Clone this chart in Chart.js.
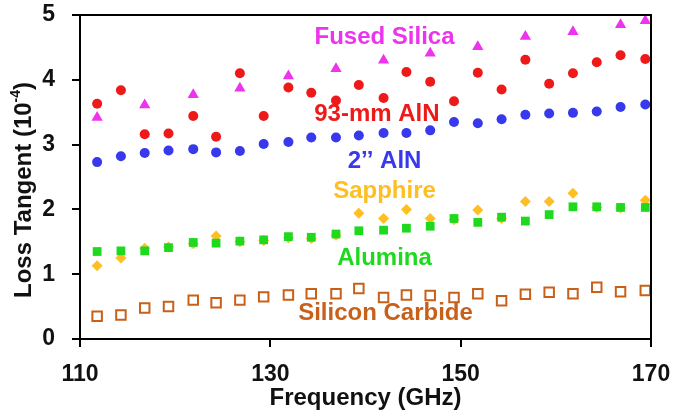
<!DOCTYPE html>
<html>
<head>
<meta charset="utf-8">
<title>Loss Tangent vs Frequency</title>
<script src="https://cdn.jsdelivr.net/npm/chart.js@4.4.0/dist/chart.umd.min.js"></script>
<style>
    html, body { margin: 0; padding: 0; background: #ffffff; }
    #wrap { width: 697px; height: 419px; }
</style>
</head>
<body>
<div id="wrap"><canvas id="lossChart"></canvas></div>
<script>
// Measurement frequencies (GHz)
const frequencies = [111.8, 114.3, 116.8, 119.3, 121.9, 124.3, 126.8, 129.3, 131.9, 134.3, 136.9, 139.3,
                     141.9, 144.3, 146.8, 149.3, 151.8, 154.3, 156.8, 159.3, 161.8, 164.3, 166.8, 169.4];

// Loss tangent values (x 10^-4), null where no point was plotted
const aln93mm = [3.63, 3.84, 3.16, 3.17, 3.44, 3.12, 4.10, 3.44, 3.88, 3.80, 3.68, 3.92,
                 3.72, 4.12, 3.97, 3.67, 4.11, 3.85, 4.31, 3.94, 4.10, 4.27, 4.38, 4.32];
const fusedSilica = [3.42, null, 3.61, null, 3.77, null, 3.87, null, 4.06, null, 4.17, null,
                     4.30, null, 4.41, null, 4.51, null, 4.67, null, 4.74, null, 4.85, 4.91];
const aln2in = [2.73, 2.82, 2.87, 2.91, 2.93, 2.88, 2.90, 3.01, 3.04, 3.11, 3.11, 3.14,
                3.18, 3.18, 3.22, 3.35, 3.33, 3.39, 3.46, 3.48, 3.49, 3.51, 3.58, 3.62];
const alumina = [1.35, 1.36, 1.36, 1.41, 1.49, 1.48, 1.51, 1.53, 1.58, 1.57, 1.62, 1.67,
                 1.68, 1.71, 1.74, 1.86, 1.80, 1.88, 1.82, 1.92, 2.04, 2.04, 2.03, 2.03];
const sapphire = [1.13, 1.25, 1.40, 1.42, 1.47, 1.59, 1.50, 1.52, 1.56, 1.55, 1.60, 1.94,
                  1.86, 2.00, 1.86, 1.84, 1.99, 1.86, 2.12, 2.12, 2.25, 2.03, 2.02, 2.14];
const siliconCarbide = [0.35, 0.37, 0.48, 0.50, 0.60, 0.56, 0.60, 0.65, 0.68, 0.70, 0.70, 0.78,
                        0.64, 0.68, 0.67, 0.64, 0.70, 0.59, 0.69, 0.72, 0.70, 0.80, 0.73, 0.75];

const xTicks = [110, 130, 150, 170];
const yTicks = [0, 1, 2, 3, 4, 5];

// In-plot material labels (placed in data units)
const labelNames = ['Fused Silica', '93-mm AlN', '2\u2019\u2019 AlN', 'Sapphire', 'Alumina', 'Silicon Carbide'];
const labelFreq = [142.0, 141.2, 142.0, 142.0, 142.0, 142.1];
const labelLoss = [4.65, 3.46, 2.74, 2.28, 1.25, 0.39];

const COLORS = {
    fused: '#EE33EE',
    aln93: '#EE1A1A',
    aln2: '#3838EC',
    sapphire: '#FFBF22',
    alumina: '#1FD91F',
    sic: '#C8601A'
};
const labelColors = [COLORS.fused, COLORS.aln93, COLORS.aln2, COLORS.sapphire, COLORS.alumina, COLORS.sic];

const FONT = '"Liberation Sans", Arial, Helvetica, sans-serif';

function toPoints(values) {
    return frequencies.map((f, i) => ({ x: f, y: values[i] })).filter(p => p.y !== null);
}

function series(label, values, color, style, radius, extra) {
    return Object.assign({
        label: label,
        data: toPoints(values),
        pointStyle: style,
        pointRadius: radius,
        pointHoverRadius: radius,
        backgroundColor: color,
        borderColor: color,
        borderWidth: 0,
        showLine: false,
        clip: false
    }, extra || {});
}

// Draws the material names, the top/right frame and the y axis title with superscript
const annotations = {
    id: 'annotations',
    afterDatasetsDraw(chart) {
        const { ctx, chartArea: a, scales: { x, y } } = chart;
        ctx.save();

        ctx.strokeStyle = '#000';
        ctx.lineWidth = 2;
        ctx.beginPath();
        ctx.moveTo(a.left, a.top);
        ctx.lineTo(a.right, a.top);
        ctx.lineTo(a.right, a.bottom);
        ctx.stroke();

        ctx.font = 'bold 24px ' + FONT;
        ctx.textAlign = 'center';
        ctx.textBaseline = 'middle';
        labelNames.forEach((name, i) => {
            ctx.fillStyle = labelColors[i];
            ctx.fillText(name, x.getPixelForValue(labelFreq[i]), y.getPixelForValue(labelLoss[i]));
        });

        // y axis title: Loss Tangent (10^-4)
        const main = 'Loss Tangent (10';
        const sup = '-4';
        const end = ')';
        const bigFont = 'bold 24px ' + FONT;
        const smallFont = 'bold 14px ' + FONT;
        ctx.font = bigFont;
        const w1 = ctx.measureText(main).width;
        const w3 = ctx.measureText(end).width;
        ctx.font = smallFont;
        const w2 = ctx.measureText(sup).width;
        const total = w1 + w2 + w3;

        ctx.translate(24, 190);
        ctx.rotate(-Math.PI / 2);
        ctx.fillStyle = '#111';
        ctx.textAlign = 'left';
        let pos = -total / 2;
        ctx.font = bigFont;
        ctx.fillText(main, pos, 0);
        pos += w1;
        ctx.font = smallFont;
        ctx.fillText(sup, pos, -8);
        pos += w2;
        ctx.font = bigFont;
        ctx.fillText(end, pos, 0);

        ctx.restore();
    }
};

Chart.defaults.font.family = FONT;
Chart.defaults.color = '#111';

const ctx = document.getElementById('lossChart').getContext('2d');
new Chart(ctx, {
    type: 'scatter',
    data: {
        datasets: [
            series('93-mm AlN', aln93mm, COLORS.aln93, 'circle', 5),
            series('Fused Silica', fusedSilica, COLORS.fused, 'triangle', 6.5),
            series('2\u2019\u2019 AlN', aln2in, COLORS.aln2, 'circle', 5),
            series('Alumina', alumina, COLORS.alumina, 'rect', 6.2),
            series('Sapphire', sapphire, COLORS.sapphire, 'rectRot', 5.5),
            series('Silicon Carbide', siliconCarbide, COLORS.sic, 'rect', 6.7,
                { backgroundColor: '#ffffff', borderWidth: 2 })
        ]
    },
    options: {
        responsive: true,
        maintainAspectRatio: false,
        animation: false,
        layout: { padding: { top: 15, right: 46, left: 0, bottom: 0 } },
        plugins: {
            legend: { display: false },
            tooltip: { enabled: false }
        },
        scales: {
            x: {
                type: 'linear',
                min: 110,
                max: 170,
                afterBuildTicks: scale => { scale.ticks = xTicks.map(v => ({ value: v })); },
                afterFit: scale => {
                    scale.height = 80;
                    scale.paddingLeft = 0;
                    scale.paddingRight = 0;
                },
                ticks: {
                    padding: 14,
                    color: '#111',
                    font: { size: 23, weight: 'bold' }
                },
                grid: {
                    drawOnChartArea: false,
                    drawTicks: true,
                    tickLength: 8,
                    color: '#000',
                    lineWidth: 2
                },
                border: { color: '#000', width: 2 },
                title: {
                    display: true,
                    text: 'Frequency (GHz)',
                    color: '#111',
                    font: { size: 24, weight: 'bold' },
                    padding: { top: 0, bottom: 6 }
                }
            },
            y: {
                min: 0,
                max: 5,
                afterBuildTicks: scale => { scale.ticks = yTicks.map(v => ({ value: v })); },
                afterFit: scale => {
                    scale.width = 80;
                    scale.paddingTop = 0;
                    scale.paddingBottom = 0;
                },
                ticks: {
                    padding: 17,
                    color: '#111',
                    font: { size: 23, weight: 'bold' }
                },
                grid: {
                    drawOnChartArea: false,
                    drawTicks: true,
                    tickLength: 8,
                    color: '#000',
                    lineWidth: 2
                },
                border: { color: '#000', width: 2 }
            }
        }
    },
    plugins: [annotations]
});
</script>
</body>
</html>
